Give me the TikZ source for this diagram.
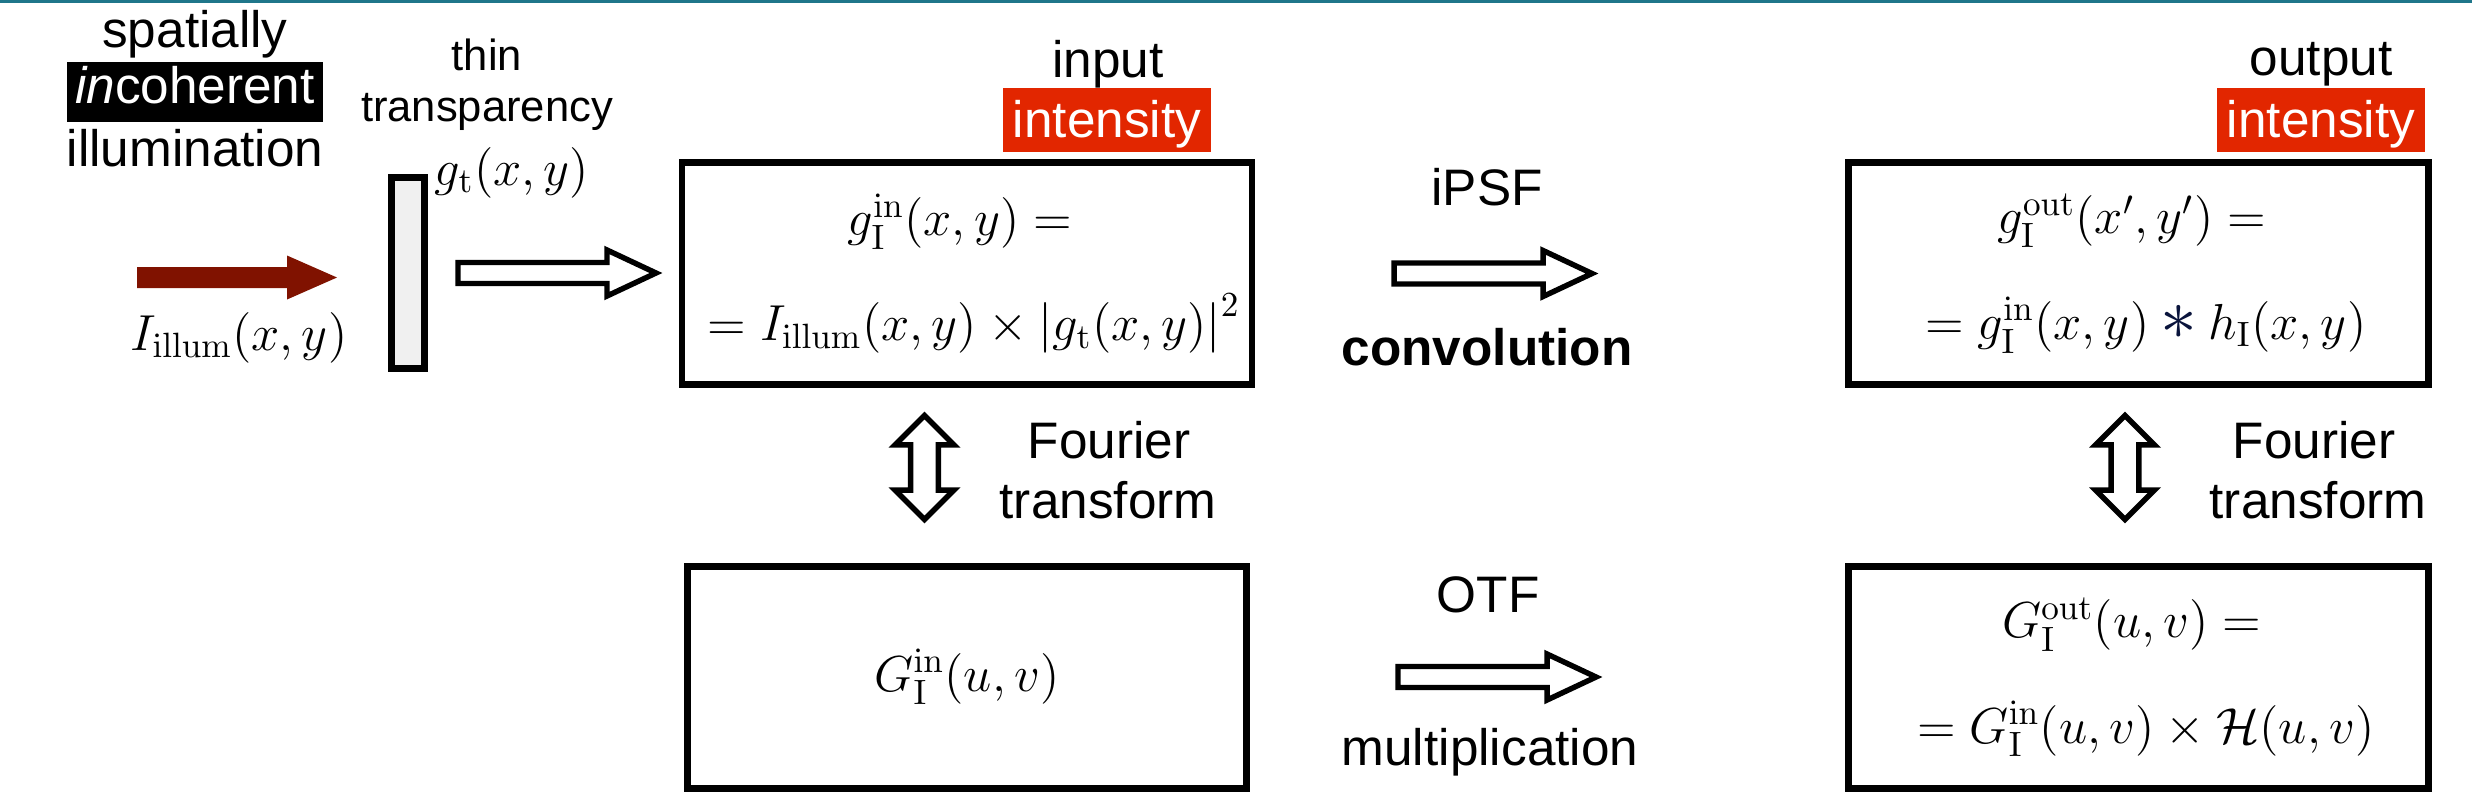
\documentclass[tikz,border=0pt]{standalone}
\usepackage{amsmath}
\usepackage[no-math]{fontspec}
\setmainfont{Liberation Sans}
\usepackage{tikz}
\usetikzlibrary{shapes.arrows, positioning, calc}
\definecolor{tealline}{RGB}{31,118,138}
\definecolor{tagred}{RGB}{226,38,0}
\definecolor{illumred}{RGB}{128,18,0}
\definecolor{astblue}{RGB}{10,20,60}

\begin{document}
\begin{tikzpicture}[
    % --- STYLES ---
    lbl/.style={font=\fontsize{14.6}{17}\selectfont, anchor=base, inner sep=0pt},
    smalllbl/.style={font=\fontsize{12.4}{15}\selectfont, anchor=base, inner sep=0pt},
    mathlbl/.style={font=\fontsize{14}{16}\selectfont, anchor=base, inner sep=0pt},
    tag/.style={
        fill=tagred, text=white,
        font=\fontsize{14.6}{17}\selectfont,
        minimum width=2.08cm,
        text height=0.49cm, text depth=0.15cm,
        inner sep=0pt, anchor=base
    },
    fbox/.style={
        rectangle, draw=black, line width=1.9pt, fill=white,
        align=center, font=\fontsize{14}{30}\selectfont,
        minimum height=2.22cm
    },
    inbox/.style={fbox, minimum width=5.59cm},
    outbox/.style={fbox, minimum width=5.80cm},
    hollow/.style={draw=black, line width=1.55pt, fill=white, line join=miter},
    beam/.style={fill=illumred},
    updown/.style={
        double arrow, draw=black, line width=1.55pt, fill=white,
        rotate=90, minimum height=1.04cm, inner sep=0.112cm,
        double arrow head extend=0.155cm
    }
]

% ===== 1. FRAME =====
\useasboundingbox (0,0) rectangle (24.72,-8.08);
\fill[tealline] (0,0) rectangle (24.72,-0.03);

\def\xIn{9.67}
\def\yTop{-2.735}
% hollow block arrow, starting at its tail
\def\blockarrow(#1){\draw[hollow] (#1) ++(0,0.105) -- ++(1.49,0) -- ++(0,0.125)
    -- ++(0.49,-0.23) -- ++(-0.49,-0.23) -- ++(0,0.125) -- ++(-1.49,0) -- cycle;}

% ===== 2. ILLUMINATION & TRANSPARENCY =====
\node[lbl] (spat) at (1.95,-0.47) {spatially};
\node[tag, fill=black, minimum width=2.56cm, text height=0.41cm, text depth=0.19cm]
    (incoh) at (1.95,-1.03) {\textit{in}coherent};
\node[lbl] (illum) at (1.95,-1.66) {illumination};

\coordinate (src) at (1.37,-2.775);
\fill[beam] (src) ++(0,0.105) -- ++(1.5,0) -- ++(0,0.115) -- ++(0.5,-0.22)
    -- ++(-0.5,-0.22) -- ++(0,0.115) -- ++(-1.5,0) -- cycle;
\node[mathlbl] (Iillum) at (2.39,-3.50) {$I_{\mathrm{illum}}(x,y)$};

\node[rectangle, draw=black, line width=1.98pt, fill=gray!12,
    minimum width=0.33cm, minimum height=1.91cm] (trans) at (4.08,-2.73) {};
\node[smalllbl] (thin) at (4.87,-0.70) {thin};
\node[smalllbl] (transp) at (4.87,-1.21) {transparency};
\node[mathlbl] (gt) at (5.12,-1.85) {$g_{\mathrm{t}}(x,y)$};

% ===== 3. BOXES =====
\node[inbox] (gin) at (\xIn,\yTop)
    {$g_{\mathrm{I}}^{\mathrm{in}}(x,y) ={}$\\
     ${}= I_{\mathrm{illum}}(x,y) \times \left|g_{\mathrm{t}}(x,y)\right|^2$};
\node[outbox, right=5.9cm of gin] (gout)
    {$g_{\mathrm{I}}^{\mathrm{out}}(x',y') ={}$\\
     ${}= g_{\mathrm{I}}^{\mathrm{in}}(x,y) \mathbin{\textcolor{astblue}{\scalebox{1.45}{$\ast$}}} h_{\mathrm{I}}(x,y)$};
\node[inbox, below=1.75cm of gin] (Gin) {$G_{\mathrm{I}}^{\mathrm{in}}(u,v)$};
\node[outbox, below=1.75cm of gout] (Gout)
    {$G_{\mathrm{I}}^{\mathrm{out}}(u,v) ={}$\\
     ${}= G_{\mathrm{I}}^{\mathrm{in}}(u,v) \times \mathcal{H}(u,v)$};

% input / output tags
\node[lbl] (inp) at (11.08,-0.77) {input};
\node[tag] (intin) at (11.07,-1.37) {intensity};
\node[lbl] (outp) at (23.21,-0.75) {output};
\node[tag] (intout) at (23.21,-1.37) {intensity};

% ===== 4. ARROWS & LABELS =====
\coordinate (a0) at ($(trans.east)+(0.30,0)$);
\blockarrow(a0)

\coordinate (a1) at (13.94,\yTop);
\blockarrow(a1)
\node[lbl] (ipsf) at (14.87,-2.05) {iPSF};
\node[lbl, font=\fontsize{14.6}{17}\selectfont\bfseries] (conv) at (14.87,-3.65) {convolution};

\coordinate (a2) at (13.98,-6.77);
\blockarrow(a2)
\node[lbl] (otf) at (14.88,-6.12) {OTF};
\node[lbl] (mult) at (14.90,-7.65) {multiplication};

\node[updown] (ft1) at (9.245,-4.675) {};
\node[lbl] (four1) at (11.09,-4.58) {Fourier};
\node[lbl] (tf1) at (11.08,-5.18) {transform};

\node[updown] (ft2) at (21.25,-4.675) {};
\node[lbl] (four2) at (23.14,-4.58) {Fourier};
\node[lbl] (tf2) at (23.18,-5.18) {transform};

\end{tikzpicture}
\end{document}
